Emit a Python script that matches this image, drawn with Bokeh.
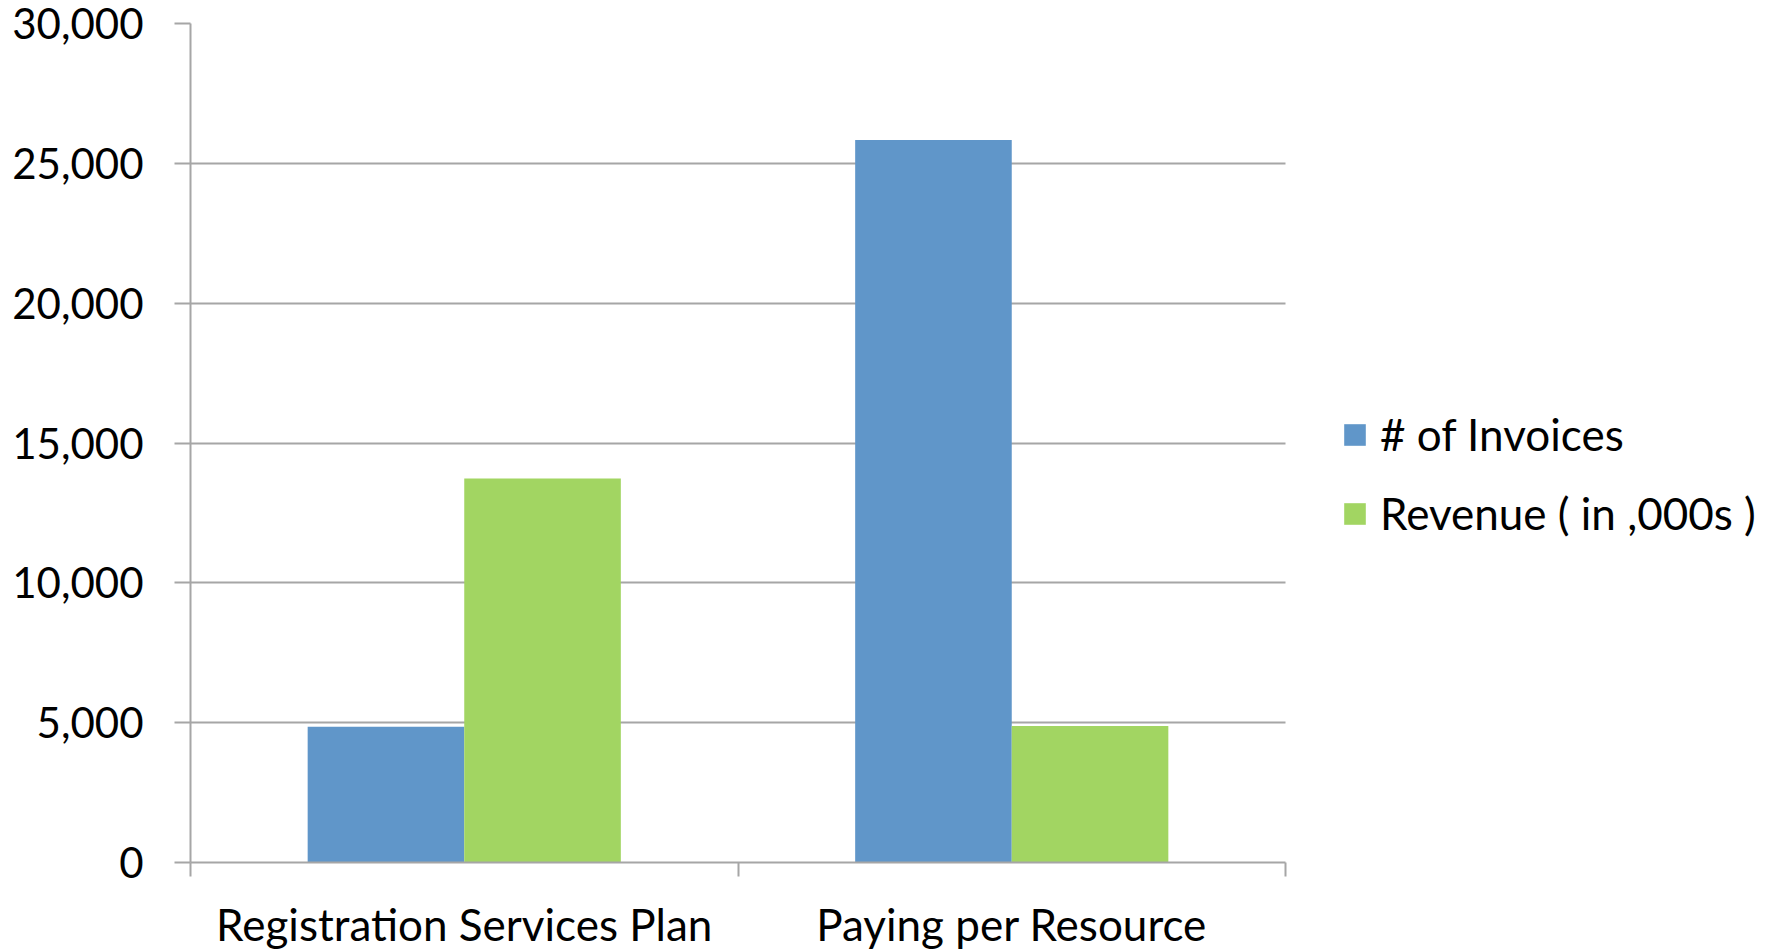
import numpy as np
from bokeh.plotting import figure
from bokeh.models import Range1d, FixedTicker, NumeralTickFormatter, ColumnDataSource, Legend, LegendItem
from bokeh.embed import file_html
from bokeh.resources import INLINE

categories = ["Registration Services Plan", "Paying per Resource"]
invoices = [4850, 25830]
revenue = [13730, 4880]
series_names = ["# of Invoices", "Revenue ( in ,000s )"]
y_ticks = [0, 5000, 10000, 15000, 20000, 25000, 30000]

BLUE = "#6096C9"
GREEN = "#A2D562"
GRAY = "#A6A6A6"
FONT = "Lato"

W, H = 1779, 952
LEFT, TOP, BOTTOM = 190, 23, 89
CAT_PX = 547.5          # pixel width of one category slot
n = len(categories)
x_end = (W - LEFT) / CAT_PX   # frame spans full width; axis/grid bounded to categories

idx = np.arange(n)
bar_w = 0.286
src = ColumnDataSource(dict(
    x_inv=idx + 0.5 - bar_w / 2,
    x_rev=idx + 0.5 + bar_w / 2,
    inv=invoices,
    rev=revenue,
))

p = figure(width=W, height=H, output_backend="svg", toolbar_location=None,
           x_range=Range1d(0, x_end), y_range=Range1d(0, y_ticks[-1]),
           min_border_left=LEFT, min_border_right=0, min_border_top=TOP, min_border_bottom=BOTTOM)
p.outline_line_color = None
p.background_fill_color = "white"

r1 = p.vbar(x="x_inv", top="inv", width=bar_w, source=src, fill_color=BLUE, line_color=None)
r2 = p.vbar(x="x_rev", top="rev", width=bar_w, source=src, fill_color=GREEN, line_color=None)

# y axis
yax = p.yaxis[0]
yax.ticker = FixedTicker(ticks=y_ticks)
yax.formatter = NumeralTickFormatter(format="0,0")
yax.axis_line_color = GRAY
yax.axis_line_width = 2
yax.major_tick_line_color = GRAY
yax.major_tick_line_width = 2
yax.major_tick_out = 16
yax.major_tick_in = 0
yax.minor_tick_line_color = None
yax.major_label_standoff = 31
yax.major_label_text_font = FONT
yax.major_label_text_font_size = "42px"
yax.major_label_text_color = "black"

# x axis
xax = p.xaxis[0]
xax.bounds = (0, n)
xax.ticker = FixedTicker(ticks=list(idx + 0.5), minor_ticks=list(range(n + 1)))
xax.major_label_overrides = {float(i + 0.5): c for i, c in enumerate(categories)}
xax.axis_line_color = GRAY
xax.axis_line_width = 2
xax.major_tick_line_color = None
xax.minor_tick_line_color = GRAY
xax.minor_tick_line_width = 2
xax.minor_tick_out = 14
xax.minor_tick_in = 0
xax.major_label_standoff = 21
xax.major_label_text_font = FONT
xax.major_label_text_font_size = "44px"
xax.major_label_text_color = "black"

p.xgrid.grid_line_color = None
p.ygrid.grid_line_color = GRAY
p.ygrid.grid_line_width = 2
p.ygrid.cross_bounds = (0, n)

legend = Legend(items=[LegendItem(label=series_names[0], renderers=[r1]),
                       LegendItem(label=series_names[1], renderers=[r2])],
                location=(1151, 323))
legend.glyph_width = 27
legend.glyph_height = 27
legend.label_height = 27
legend.label_standoff = 12
legend.spacing = 27
legend.padding = 0
legend.margin = 0
legend.border_line_color = None
legend.background_fill_alpha = 0
legend.label_text_font = FONT
legend.label_text_font_size = "44px"
legend.label_text_color = "black"
p.add_layout(legend, "center")

open("out.html", "w").write(file_html(p, INLINE))
